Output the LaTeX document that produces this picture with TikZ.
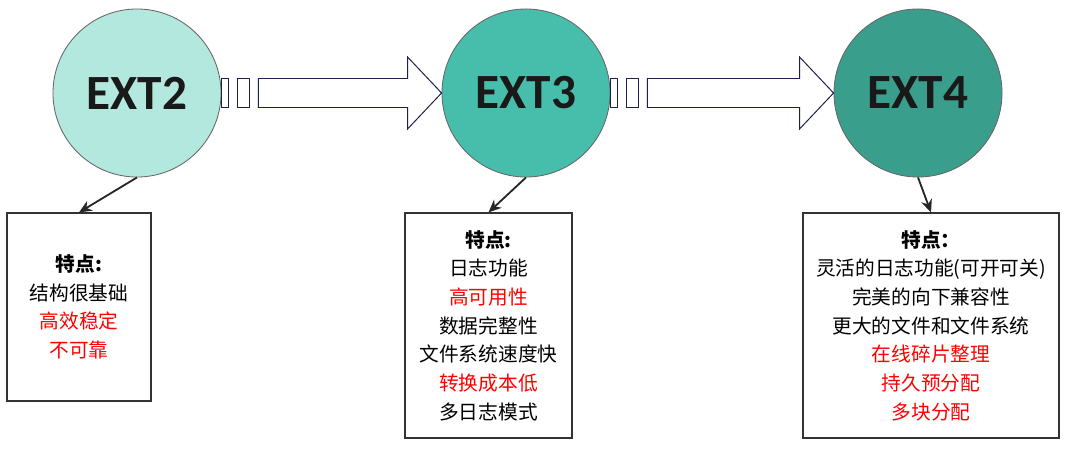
\documentclass[tikz,border=0pt]{standalone}
\usepackage{fontspec}
\setmainfont{Noto Sans CJK SC}
\newfontfamily\extfont{Carlito}
\usetikzlibrary{calc,arrows.meta}
\definecolor{extlight}{HTML}{B3E8DF}
\definecolor{extmid}{HTML}{47BEAB}
\definecolor{extdark}{HTML}{3A9E8D}
\definecolor{arrowblue}{HTML}{1B1F4B}
\newcommand{\hollowarrow}[2]{%
  \path (#1.east) coordinate (s) (#2.west) coordinate (t);
  \draw[flow] ($(s)+(0,-14.5)$) rectangle ($(s)+(7,14.5)$);
  \draw[flow] ($(s)+(16,-14.5)$) rectangle ($(s)+(28,14.5)$);
  \draw[flow] ($(s)+(37,-14.5)$) -- ($(t)+(-34,-14.5)$) -- ($(t)+(-34,-36)$)
    -- (t) -- ($(t)+(-34,36)$) -- ($(t)+(-34,14.5)$) -- ($(s)+(37,14.5)$) -- cycle;
}
\begin{document}
\begin{tikzpicture}[x=0.025cm,y=-0.025cm,>={Stealth[length=3.2mm,width=2.8mm]},
  ext node/.style={circle,draw=black!60,line width=0.6pt,minimum size=4.2cm,
    inner sep=0pt,font=\extfont\fontsize{35}{35}\selectfont\bfseries,text=black!90},
  info box/.style={draw=black!80,line width=0.8pt,align=center,inner sep=0pt,
    font=\fontsize{14}{20.4}\selectfont},
  flow/.style={draw=arrowblue,line width=0.7pt,fill=white},
  pointer/.style={->,draw=black!85,line width=1.3pt}]

  \useasboundingbox (0,0) rectangle (1070,448);

  \node[ext node,fill=extlight] (ext2) at (137,93) {EXT2};
  \node[ext node,fill=extmid] (ext3) at (526,93) {EXT3};
  \node[ext node,fill=extdark] (ext4) at (918,93) {EXT4};

  \hollowarrow{ext2}{ext3}
  \hollowarrow{ext3}{ext4}

  \node[info box,minimum width=3.6cm,minimum height=4.7cm] (box2) at (79,307)
    {\textbf{特点:}\\结构很基础\\\textcolor{red}{高效稳定}\\\textcolor{red}{不可靠}};
  \node[info box,minimum width=4.175cm,minimum height=5.625cm] (box3) at (488.5,325.5)
    {\textbf{特点:}\\日志功能\\\textcolor{red}{高可用性}\\数据完整性\\文件系统速度快\\\textcolor{red}{转换成本低}\\多日志模式};
  \node[info box,minimum width=6.4cm,minimum height=5.625cm] (box4) at (931,325.5)
    {\textbf{特点：}\\灵活的日志功能(可开可关)\\完美的向下兼容性\\更大的文件和文件系统\\\textcolor{red}{在线碎片整理}\\\textcolor{red}{持久预分配}\\\textcolor{red}{多块分配}};

  \draw[pointer] (ext2.south) -- (box2.north);
  \draw[pointer] (ext3.south) -- (box3.north);
  \draw[pointer] (ext4.south) -- (box4.north);
\end{tikzpicture}
\end{document}
